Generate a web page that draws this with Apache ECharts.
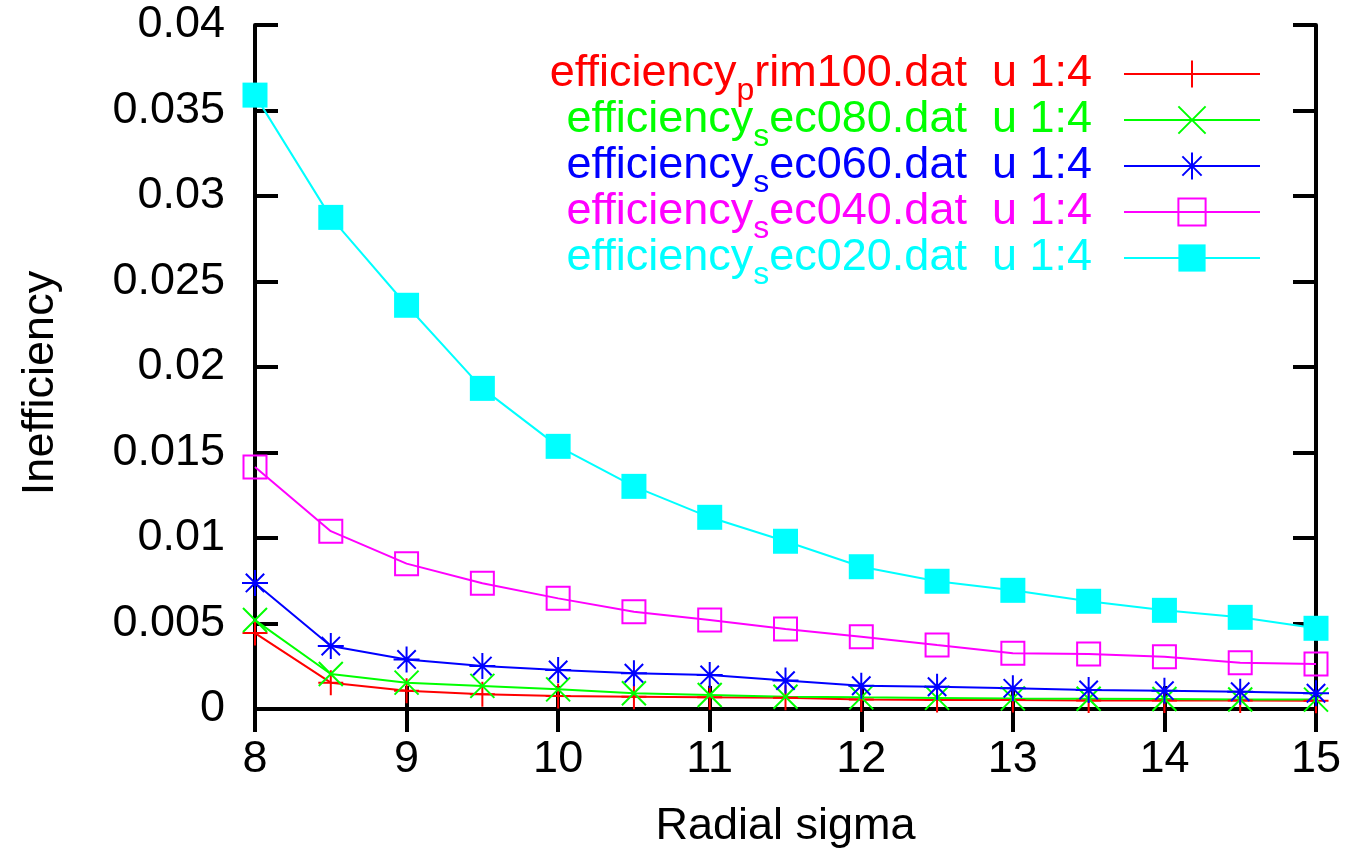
<!DOCTYPE html>
<html>
<head>
<meta charset="utf-8">
<script src="https://cdn.jsdelivr.net/npm/echarts@6/dist/echarts.min.js"></script>
<style>
html,body{margin:0;padding:0;background:#fff;}
#chart{width:1345px;height:850px;}
</style>
</head>
<body>
<div id="chart"></div>
<script>
// ---- data ----
const sigma = [8, 8.5, 9, 9.5, 10, 10.5, 11, 11.5, 12, 12.5, 13, 13.5, 14, 14.5, 15];
const prim100 = [0.00444, 0.00154, 0.00107, 0.00086, 0.00076, 0.00072, 0.00068, 0.00066, 0.00055, 0.00053, 0.00052, 0.00050, 0.00050, 0.00049, 0.00048];
const sec080  = [0.00520, 0.00205, 0.00154, 0.00135, 0.00115, 0.00092, 0.00082, 0.00072, 0.00068, 0.00065, 0.00062, 0.00060, 0.00058, 0.00056, 0.00055];
const sec060  = [0.00737, 0.00368, 0.00290, 0.00251, 0.00228, 0.00209, 0.00199, 0.00166, 0.00136, 0.00130, 0.00121, 0.00111, 0.00107, 0.00101, 0.00092];
const sec040  = [0.01415, 0.01040, 0.00850, 0.00735, 0.00647, 0.00569, 0.00520, 0.00468, 0.00423, 0.00374, 0.00326, 0.00322, 0.00306, 0.00271, 0.00263];
const sec020  = [0.03590, 0.02875, 0.02361, 0.01875, 0.01536, 0.01302, 0.01121, 0.00981, 0.00832, 0.00747, 0.00694, 0.00630, 0.00577, 0.00536, 0.00472];
const seriesNames = [
  'efficiency_prim100.dat  u 1:4',
  'efficiency_sec080.dat  u 1:4',
  'efficiency_sec060.dat  u 1:4',
  'efficiency_sec040.dat  u 1:4',
  'efficiency_sec020.dat  u 1:4'
];
const seriesValues = [prim100, sec080, sec060, sec040, sec020];
const colors = ['#ff0000', '#00ff00', '#0000ff', '#ff00ff', '#00ffff'];
const xTitle = 'Radial sigma';
const yTitle = 'Inefficiency';

// ---- styles ----
const FONT = '"Liberation Sans", Arial, Helvetica, sans-serif';
const FS = 45;
const symbols = [
  'path://M0,-10L0,10M-10,0L10,0',
  'path://M-10,-10L10,10M-10,10L10,-10',
  'path://M0,-10L0,10M-10,0L10,0M-7.07,-7.07L7.07,7.07M-7.07,7.07L7.07,-7.07',
  'path://M-10,-10L10,-10L10,10L-10,10Z',
  'rect'
];
const symbolSizes = [25, 24, 26, 23, 25];

const rich = {};
colors.forEach((c, i) => {
  rich['m' + i] = {color: c, fontSize: FS, fontFamily: FONT, lineHeight: 46};
  rich['s' + i] = {color: c, fontSize: 32, fontFamily: FONT, lineHeight: 20, padding: [34, 0, 0, 0]};
});

function legendFmt(name) {
  const i = seriesNames.indexOf(name);
  const us = name.indexOf('_');
  const head = name.slice(0, us);
  const sub = name.charAt(us + 1);
  const tail = name.slice(us + 2);
  return '{m' + i + '|' + head + '}{s' + i + '|' + sub + '}{m' + i + '|' + tail + '}';
}

const series = seriesValues.map((vals, i) => ({
  name: seriesNames[i],
  type: 'line',
  data: sigma.map((x, k) => [x, vals[k]]),
  symbol: symbols[i],
  symbolSize: symbolSizes[i],
  showAllSymbol: true,
  clip: false,
  lineStyle: {color: colors[i], width: 2},
  itemStyle: {
    color: i === 4 ? colors[i] : (i === 3 ? 'rgba(0,0,0,0)' : colors[i]),
    borderColor: colors[i],
    borderWidth: i === 4 ? 0 : 2
  },
  emphasis: {disabled: true},
  animation: false
}));

const axisLine = {show: true, lineStyle: {color: '#000', width: 4}};
const axisTick = {show: true, inside: true, length: 23, lineStyle: {color: '#000', width: 4}};

const option = {
  animation: false,
  grid: {left: 255, right: 29, top: 25, bottom: 141, containLabel: false, outerBoundsMode: 'none'},
  xAxis: [
    {
      type: 'value', min: 8, max: 15, interval: 1,
      position: 'bottom',
      name: xTitle, nameLocation: 'middle', nameGap: 95,
      nameTextStyle: {fontSize: FS, fontFamily: FONT, color: '#000'},
      axisLine: axisLine, axisTick: axisTick,
      axisLabel: {fontSize: FS, fontFamily: FONT, color: '#000', margin: 28},
      splitLine: {show: false}
    },
    {
      type: 'value', min: 8, max: 15, interval: 1,
      position: 'top',
      axisLine: axisLine, axisTick: axisTick,
      axisLabel: {show: false}, splitLine: {show: false}
    }
  ],
  yAxis: [
    {
      type: 'value', min: 0, max: 0.04, interval: 0.005,
      position: 'left',
      name: yTitle, nameLocation: 'middle', nameGap: 192, nameRotate: 90,
      nameTextStyle: {fontSize: FS, fontFamily: FONT, color: '#000', padding: [0, 32, 0, 0]},
      axisLine: axisLine, axisTick: axisTick,
      axisLabel: {fontSize: FS, fontFamily: FONT, color: '#000', margin: 30},
      splitLine: {show: false}
    },
    {
      type: 'value', min: 0, max: 0.04, interval: 0.005,
      position: 'right',
      axisLine: axisLine, axisTick: axisTick,
      axisLabel: {show: false}, splitLine: {show: false}
    }
  ],
  legend: {
    orient: 'vertical',
    right: 79,
    top: 36,
    align: 'right',
    itemWidth: 136,
    itemHeight: 34,
    itemGap: -20,
    selectedMode: false,
    formatter: legendFmt,
    textStyle: {fontSize: FS, fontFamily: FONT, lineHeight: 46, padding: [0, 27, 0, 0], rich: rich},
    data: seriesNames.map((n, i) => ({name: n, textStyle: {color: colors[i]}}))
  },
  series: series
};

const chart = echarts.init(document.getElementById('chart'), null, {renderer: 'canvas'});
chart.setOption(option);
</script>
</body>
</html>
